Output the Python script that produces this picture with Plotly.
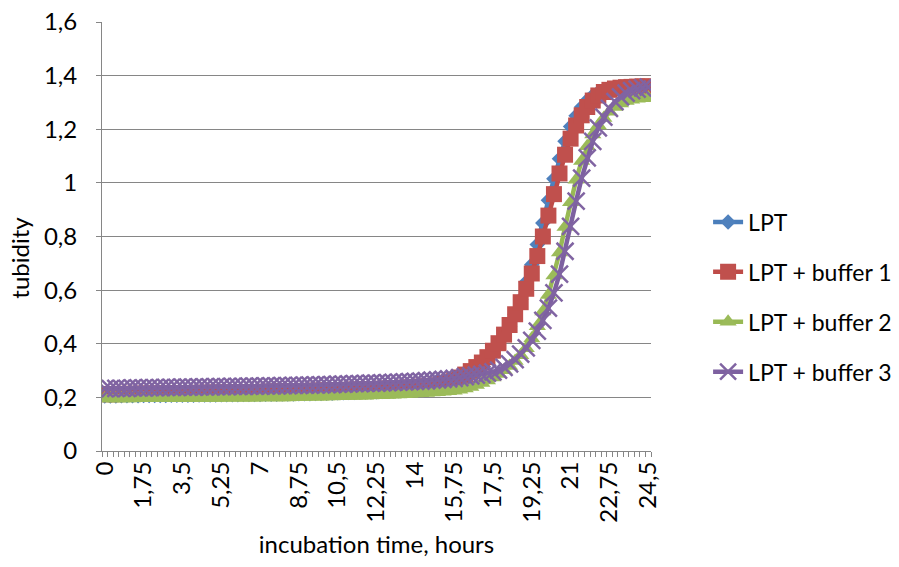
import plotly.graph_objects as go

# categories: incubation time in hours (0 .. 24.5, step 0.25)
hours = [i * 0.25 for i in range(99)]

tick_vals = [0, 1.75, 3.5, 5.25, 7, 8.75, 10.5, 12.25, 14, 15.75, 17.5, 19.25, 21, 22.75, 24.5]
tick_text = ["0", "1,75", "3,5", "5,25", "7", "8,75", "10,5", "12,25", "14", "15,75",
             "17,5", "19,25", "21", "22,75", "24,5"]

lpt = [
    0.205, 0.205, 0.205, 0.206,
    0.206, 0.206, 0.206, 0.207,
    0.207, 0.207, 0.207, 0.207,
    0.208, 0.208, 0.208, 0.208,
    0.208, 0.209, 0.209, 0.209,
    0.209, 0.210, 0.210, 0.210,
    0.210, 0.211, 0.211, 0.211,
    0.211, 0.212, 0.212, 0.212,
    0.213, 0.213, 0.213, 0.214,
    0.214, 0.214, 0.215, 0.215,
    0.216, 0.216, 0.217, 0.217,
    0.218, 0.218, 0.219, 0.220,
    0.220, 0.221, 0.222, 0.223,
    0.224, 0.225, 0.226, 0.228,
    0.229, 0.231, 0.233, 0.235,
    0.238, 0.242, 0.247, 0.253,
    0.262, 0.272, 0.284, 0.300,
    0.320, 0.340, 0.365, 0.395,
    0.428, 0.465, 0.510, 0.565,
    0.630, 0.695, 0.770, 0.850,
    0.935, 1.015, 1.090, 1.155,
    1.210, 1.250, 1.283, 1.308,
    1.326, 1.338, 1.346, 1.351,
    1.354, 1.356, 1.358, 1.359,
    1.360, 1.360, 1.360,
]

buffer1 = [
    0.212, 0.212, 0.212, 0.213,
    0.213, 0.213, 0.213, 0.214,
    0.214, 0.214, 0.214, 0.215,
    0.215, 0.215, 0.216, 0.216,
    0.216, 0.217, 0.217, 0.217,
    0.218, 0.218, 0.218, 0.219,
    0.219, 0.219, 0.220, 0.220,
    0.220, 0.221, 0.221, 0.222,
    0.222, 0.222, 0.223, 0.223,
    0.224, 0.224, 0.225, 0.225,
    0.226, 0.226, 0.227, 0.227,
    0.228, 0.229, 0.229, 0.230,
    0.231, 0.231, 0.232, 0.233,
    0.234, 0.235, 0.236, 0.237,
    0.238, 0.240, 0.241, 0.243,
    0.245, 0.250, 0.256, 0.264,
    0.274, 0.285, 0.298, 0.313,
    0.330, 0.350, 0.374, 0.402,
    0.434, 0.470, 0.510, 0.555,
    0.605, 0.662, 0.727, 0.800,
    0.878, 0.958, 1.035, 1.105,
    1.165, 1.214, 1.252, 1.283,
    1.307, 1.326, 1.339, 1.347,
    1.352, 1.355, 1.357, 1.358,
    1.359, 1.360, 1.360,
]

buffer2 = [
    0.196, 0.196, 0.196, 0.196,
    0.196, 0.196, 0.197, 0.197,
    0.197, 0.197, 0.197, 0.197,
    0.197, 0.198, 0.198, 0.198,
    0.198, 0.198, 0.198, 0.198,
    0.198, 0.199, 0.199, 0.199,
    0.199, 0.199, 0.199, 0.199,
    0.200, 0.200, 0.200, 0.200,
    0.200, 0.200, 0.201, 0.201,
    0.201, 0.202, 0.202, 0.202,
    0.203, 0.203, 0.204, 0.204,
    0.205, 0.205, 0.206, 0.206,
    0.207, 0.208, 0.208, 0.209,
    0.210, 0.211, 0.212, 0.213,
    0.214, 0.215, 0.216, 0.218,
    0.219, 0.221, 0.223, 0.225,
    0.228, 0.233, 0.239, 0.246,
    0.254, 0.263, 0.274, 0.287,
    0.301, 0.317, 0.336, 0.357,
    0.383, 0.420, 0.465, 0.520,
    0.582, 0.655, 0.740, 0.835,
    0.928, 1.012, 1.082, 1.137,
    1.180, 1.214, 1.242, 1.265,
    1.283, 1.296, 1.305, 1.310,
    1.314, 1.316, 1.318,
]

buffer3 = [
    0.233, 0.233, 0.234, 0.234,
    0.234, 0.235, 0.235, 0.235,
    0.236, 0.236, 0.236, 0.237,
    0.237, 0.237, 0.238, 0.238,
    0.238, 0.239, 0.239, 0.239,
    0.240, 0.240, 0.240, 0.241,
    0.241, 0.241, 0.242, 0.242,
    0.242, 0.243, 0.243, 0.243,
    0.244, 0.244, 0.245, 0.245,
    0.246, 0.246, 0.247, 0.247,
    0.248, 0.248, 0.249, 0.249,
    0.250, 0.251, 0.251, 0.252,
    0.253, 0.253, 0.254, 0.255,
    0.256, 0.257, 0.258, 0.259,
    0.260, 0.261, 0.262, 0.264,
    0.265, 0.267, 0.269, 0.271,
    0.274, 0.277, 0.280, 0.283,
    0.286, 0.290, 0.295, 0.302,
    0.312, 0.325, 0.341, 0.361,
    0.385, 0.413, 0.447, 0.487,
    0.533, 0.590, 0.660, 0.745,
    0.838, 0.932, 1.018, 1.093,
    1.155, 1.205, 1.245, 1.278,
    1.303, 1.321, 1.335, 1.344,
    1.350, 1.354, 1.357,
]

AXIS = "#868686"
FONT = "Lato, 'Noto Sans', sans-serif"
FS = 24

series = [
    ("LPT", lpt, "#4A7EBB", "#4F81BD", "diamond", 12),
    ("LPT + buffer 1", buffer1, "#BE4B48", "#C0504D", "square", 16),
    ("LPT + buffer 2", buffer2, "#98B954", "#9BBB59", "triangle-up", 15),
    ("LPT + buffer 3", buffer3, "#7D60A0", "#8064A2", "x-thin", 17),
]

fig = go.Figure()
for i, (name, vals, lcol, mcol, sym, sz) in enumerate(series):
    marker = dict(symbol=sym, size=sz, color=mcol)
    if sym == "x-thin":
        marker["line"] = dict(color=mcol, width=2.5)
    fig.add_trace(go.Scatter(
        x=hours, y=vals, name=name, mode="lines+markers",
        line=dict(color=lcol, width=4.5),
        marker=marker, legendgroup="g%d" % i,
    ))

fig.update_layout(
    width=899, height=567,
    margin=dict(l=102, r=248, t=22, b=116, autoexpand=False),
    plot_bgcolor="white", paper_bgcolor="white",
    font=dict(family=FONT, size=FS, color="#000000"),
    separators=", ",
    legend=dict(
        x=1.104, y=0.359, xanchor="left", yanchor="middle",
        font=dict(family=FONT, size=23, color="#000000"),
        tracegroupgap=17, bgcolor="rgba(0,0,0,0)",
    ),
    annotations=[dict(
        text="tubidity", xref="paper", yref="paper", x=-0.18, y=0.45,
        showarrow=False, textangle=-90, font=dict(family=FONT, size=FS, color="#000000"),
    )],
)

fig.update_xaxes(
    range=[-0.125, 24.625],
    tickmode="array", tickvals=tick_vals, ticktext=tick_text, tickangle=-90,
    ticks="", showline=True, linecolor=AXIS, linewidth=1, showgrid=False, zeroline=False,
    tickfont=dict(family=FONT, size=FS),
    minor=dict(tickmode="linear", tick0=-0.125, dtick=0.25, ticks="outside",
               ticklen=5, tickcolor=AXIS, showgrid=False),
    title=dict(text="incubation time, hours", standoff=14, font=dict(family=FONT, size=FS)),
)

fig.update_yaxes(
    range=[0, 1.6], dtick=0.2, tick0=0,
    showgrid=True, gridcolor=AXIS, gridwidth=1,
    showline=True, linecolor=AXIS, linewidth=1, zeroline=False,
    ticks="outside", ticklen=5, tickcolor=AXIS, ticklabelstandoff=14,
    tickfont=dict(family=FONT, size=FS),
)

fig.write_html("out.html")
